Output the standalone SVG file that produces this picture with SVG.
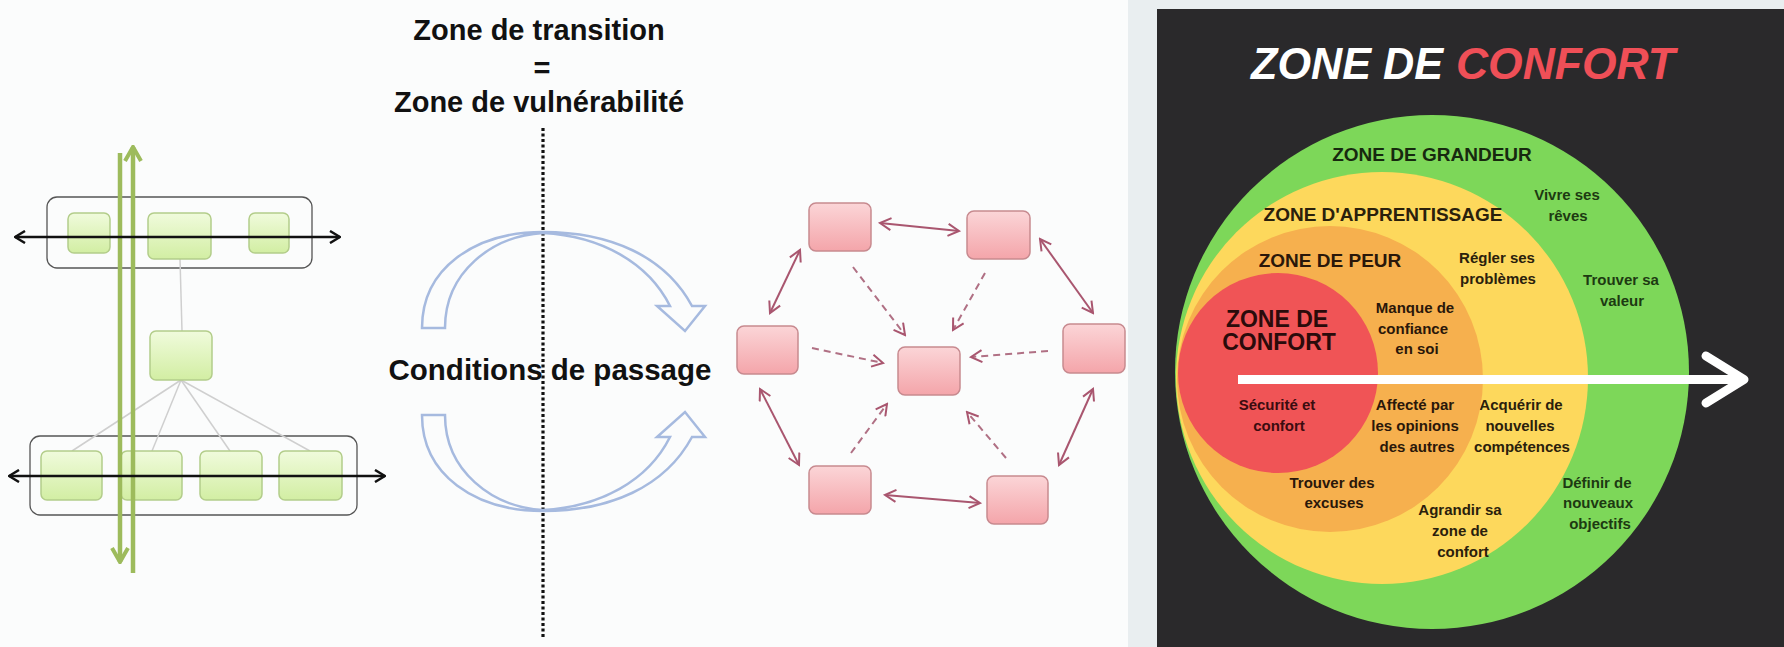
<svg xmlns="http://www.w3.org/2000/svg" width="1784" height="647" viewBox="0 0 1784 647">
  <style>
    .ttl { font-family: "Liberation Sans", Arial, sans-serif; font-weight: bold; fill: #111; }
    .gbox { fill: url(#gGreen); stroke: #b3cd8a; stroke-width: 1.5; }
    .pbox { fill: url(#gPink); stroke: #c78a8f; stroke-width: 1.5; }
    .frame { fill: none; stroke: #555; stroke-width: 1.3; }
    .link { stroke: #cfcfcf; stroke-width: 1.5; fill: none; }
    .blk { stroke: #111; stroke-width: 2.5; fill: none; marker-start: url(#mBlack); marker-end: url(#mBlack); }
    .grn { stroke: #9dbb5c; stroke-width: 4.5; fill: none; }
    .duo { stroke: #a9566f; stroke-width: 2; fill: none; marker-start: url(#mPink); marker-end: url(#mPink); }
    .dash { stroke: #b07084; stroke-width: 2; fill: none; stroke-dasharray: 7 5; marker-end: url(#mPink); }
    .curve { fill: #fff; fill-opacity: 0; stroke: #a6badf; stroke-width: 2.5; stroke-linejoin: miter; }
    .zt { font-family: "Liberation Sans", Arial, sans-serif; font-weight: bold; text-anchor: middle; }
    .sm { font-size: 15px; }
  </style>
  <defs>
    <linearGradient id="gGreen" x1="0" y1="0" x2="0" y2="1">
      <stop offset="0" stop-color="#f0fbdc"/>
      <stop offset="1" stop-color="#d2eea3"/>
    </linearGradient>
    <linearGradient id="gPink" x1="0" y1="0" x2="0" y2="1">
      <stop offset="0" stop-color="#fbd5d7"/>
      <stop offset="1" stop-color="#f4a5aa"/>
    </linearGradient>
    <marker id="mBlack" viewBox="0 0 12 14" refX="11" refY="7" markerWidth="12" markerHeight="14" markerUnits="userSpaceOnUse" orient="auto-start-reverse">
      <path d="M1,1 L11,7 L1,13" fill="none" stroke="#111" stroke-width="2.5"/>
    </marker>
    <marker id="mGreen" viewBox="0 0 18 20" refX="16" refY="10" markerWidth="18" markerHeight="20" markerUnits="userSpaceOnUse" orient="auto">
      <path d="M2,2 L16,10 L2,18" fill="none" stroke="#9dbb5c" stroke-width="4"/>
    </marker>
    <marker id="mPink" viewBox="0 0 14 14" refX="12" refY="7" markerWidth="14" markerHeight="14" markerUnits="userSpaceOnUse" orient="auto-start-reverse">
      <path d="M1,1 L12,7 L1,13" fill="none" stroke="#a9566f" stroke-width="2"/>
    </marker>
  </defs>

  <!-- backgrounds -->
  <rect x="0" y="0" width="1784" height="647" fill="#fbfcfc"/>
  <rect x="1128" y="0" width="656" height="647" fill="#e9eef0"/>

  <!-- left: hierarchy of green blocks -->
  <g id="hierarchy">
    <rect class="frame" x="47" y="197" width="265" height="71" rx="10"/>
    <rect class="frame" x="30" y="436" width="327" height="79" rx="10"/>
    <g id="links">
      <line class="link" x1="180" y1="259" x2="182" y2="331"/>
      <line class="link" x1="181" y1="380" x2="72" y2="451"/>
      <line class="link" x1="181" y1="380" x2="152" y2="451"/>
      <line class="link" x1="181" y1="380" x2="230" y2="451"/>
      <line class="link" x1="181" y1="380" x2="310" y2="451"/>
    </g>
    <g id="g-top-1"><rect class="gbox" x="68" y="213" width="42" height="40" rx="6"/></g>
    <g id="g-top-2"><rect class="gbox" x="148" y="213" width="63" height="46" rx="6"/></g>
    <g id="g-top-3"><rect class="gbox" x="249" y="213" width="40" height="40" rx="6"/></g>
    <g id="g-mid"><rect class="gbox" x="150" y="331" width="62" height="49" rx="6"/></g>
    <g id="g-bot-1"><rect class="gbox" x="41" y="451" width="61" height="49" rx="6"/></g>
    <g id="g-bot-2"><rect class="gbox" x="121" y="451" width="61" height="49" rx="6"/></g>
    <g id="g-bot-3"><rect class="gbox" x="200" y="451" width="62" height="49" rx="6"/></g>
    <g id="g-bot-4"><rect class="gbox" x="279" y="451" width="63" height="49" rx="6"/></g>
    <g id="axes">
      <line class="grn" x1="120" y1="153" x2="120" y2="562" marker-end="url(#mGreen)"/>
      <line class="grn" x1="133" y1="573" x2="133" y2="147" marker-end="url(#mGreen)"/>
      <line class="blk" x1="15" y1="237" x2="340" y2="237"/>
      <line class="blk" x1="9" y1="476" x2="385" y2="476"/>
    </g>
  </g>

  <!-- middle: transition -->
  <g id="transition">
    <text class="ttl" x="539" y="40" font-size="29" text-anchor="middle">Zone de transition</text>
    <text class="ttl" x="542" y="78" font-size="29" text-anchor="middle">=</text>
    <text class="ttl" x="539" y="112" font-size="29" text-anchor="middle">Zone de vulnérabilité</text>
    <line x1="543" y1="128" x2="543" y2="638" stroke="#111" stroke-width="3.2" stroke-dasharray="3 2.5"/>
    <path id="arc-top" class="curve" d="M422,328 L445,328 C445,272 492,236 543,233 C600,236 648,262 670,306 L657,306 L685,331 L705,306 L692,306 C665,256 610,232 543,232 C475,232 422,268 422,328 Z"/>
    <path id="arc-bottom" class="curve" transform="translate(0,743) scale(1,-1)" d="M422,328 L445,328 C445,272 492,236 543,233 C600,236 648,262 670,306 L657,306 L685,331 L705,306 L692,306 C665,256 610,232 543,232 C475,232 422,268 422,328 Z"/>
    <text class="ttl" x="550" y="380" font-size="29.5" text-anchor="middle">Conditions de passage</text>
  </g>

  <!-- network of pink blocks -->
  <g id="network-links">
    <line class="duo" x1="880" y1="223" x2="959" y2="231"/>
    <line class="duo" x1="1040" y1="239" x2="1093" y2="313"/>
    <line class="duo" x1="800" y1="250" x2="770" y2="313"/>
    <line class="duo" x1="760" y1="389" x2="799" y2="465"/>
    <line class="duo" x1="885" y1="495" x2="980" y2="503"/>
    <line class="duo" x1="1093" y1="389" x2="1059" y2="465"/>
    <line class="dash" x1="853" y1="267" x2="905" y2="335"/>
    <line class="dash" x1="985" y1="273" x2="953" y2="330"/>
    <line class="dash" x1="812" y1="348" x2="883" y2="363"/>
    <line class="dash" x1="1048" y1="351" x2="971" y2="357"/>
    <line class="dash" x1="851" y1="453" x2="887" y2="404"/>
    <line class="dash" x1="1006" y1="458" x2="967" y2="412"/>
  </g>
  <g id="p-tl"><rect class="pbox" x="809" y="203" width="62" height="48" rx="7"/></g>
  <g id="p-tr"><rect class="pbox" x="967" y="211" width="63" height="48" rx="7"/></g>
  <g id="p-l"><rect class="pbox" x="737" y="326" width="61" height="48" rx="7"/></g>
  <g id="p-c"><rect class="pbox" x="898" y="347" width="62" height="48" rx="7"/></g>
  <g id="p-r"><rect class="pbox" x="1063" y="324" width="62" height="49" rx="7"/></g>
  <g id="p-bl"><rect class="pbox" x="809" y="466" width="62" height="48" rx="7"/></g>
  <g id="p-br"><rect class="pbox" x="987" y="476" width="61" height="48" rx="7"/></g>

  <!-- right: comfort zone chart -->
  <g id="comfort-chart">
    <rect x="1157" y="9" width="627" height="638" fill="#2a292b"/>
    <text x="1251" y="79" font-family="'Liberation Sans', Arial, sans-serif" font-weight="bold" font-style="italic" font-size="45" fill="#ffffff" textLength="192" lengthAdjust="spacingAndGlyphs">ZONE DE</text>
    <text x="1456" y="79" font-family="'Liberation Sans', Arial, sans-serif" font-weight="bold" font-style="italic" font-size="45" fill="#ef4f57" textLength="219" lengthAdjust="spacingAndGlyphs">CONFORT</text>

    <g id="zone-grandeur">
      <circle cx="1432" cy="372" r="257" fill="#7dd759"/>
      <text class="zt" x="1432" y="161" font-size="19" fill="#17290f">ZONE DE GRANDEUR</text>
      <text class="zt sm" x="1567" y="200" fill="#1d3a12">Vivre ses</text>
      <text class="zt sm" x="1568" y="221" fill="#1d3a12">rêves</text>
      <text class="zt sm" x="1621" y="285" fill="#1d3a12">Trouver sa</text>
      <text class="zt sm" x="1622" y="306" fill="#1d3a12">valeur</text>
      <text class="zt sm" x="1597" y="488" fill="#1d3a12">Définir de</text>
      <text class="zt sm" x="1598" y="508" fill="#1d3a12">nouveaux</text>
      <text class="zt sm" x="1600" y="529" fill="#1d3a12">objectifs</text>
    </g>
    <g id="zone-apprentissage">
      <circle cx="1382" cy="378" r="206" fill="#fdd85c"/>
      <text class="zt" x="1383" y="221" font-size="19" fill="#2a200c">ZONE D'APPRENTISSAGE</text>
      <text class="zt sm" x="1497" y="263" fill="#2a200c">Régler ses</text>
      <text class="zt sm" x="1498" y="284" fill="#2a200c">problèmes</text>
      <text class="zt sm" x="1521" y="410" fill="#2a200c">Acquérir de</text>
      <text class="zt sm" x="1520" y="431" fill="#2a200c">nouvelles</text>
      <text class="zt sm" x="1522" y="452" fill="#2a200c">compétences</text>
      <text class="zt sm" x="1460" y="515" fill="#2a200c">Agrandir sa</text>
      <text class="zt sm" x="1460" y="536" fill="#2a200c">zone de</text>
      <text class="zt sm" x="1463" y="557" fill="#2a200c">confort</text>
    </g>
    <g id="zone-peur">
      <circle cx="1330" cy="379" r="153" fill="#f6b04e"/>
      <text class="zt" x="1330" y="267" font-size="19" fill="#2a170a">ZONE DE PEUR</text>
      <text class="zt sm" x="1415" y="313" fill="#2a170a">Manque de</text>
      <text class="zt sm" x="1413" y="334" fill="#2a170a">confiance</text>
      <text class="zt sm" x="1417" y="354" fill="#2a170a">en soi</text>
      <text class="zt sm" x="1415" y="410" fill="#2a170a">Affecté par</text>
      <text class="zt sm" x="1415" y="431" fill="#2a170a">les opinions</text>
      <text class="zt sm" x="1417" y="452" fill="#2a170a">des autres</text>
      <text class="zt sm" x="1332" y="488" fill="#2a170a">Trouver des</text>
      <text class="zt sm" x="1334" y="508" fill="#2a170a">excuses</text>
    </g>
    <g id="zone-confort">
      <circle cx="1278" cy="373" r="100" fill="#f05456"/>
      <text class="zt" x="1277" y="327" font-size="23" fill="#2a0b0b">ZONE DE</text>
      <text class="zt" x="1279" y="350" font-size="23" fill="#2a0b0b">CONFORT</text>
      <text class="zt sm" x="1277" y="410" fill="#3b0c10">Sécurité et</text>
      <text class="zt sm" x="1279" y="431" fill="#3b0c10">confort</text>
    </g>
    <g id="growth-arrow" stroke="#ffffff" stroke-width="9" stroke-linecap="round" stroke-linejoin="round" fill="none">
      <line x1="1238" y1="379.5" x2="1740" y2="379.5" stroke-linecap="butt"/>
      <path d="M1706,356 L1744,379.5 L1706,403"/>
    </g>
  </g>
</svg>
